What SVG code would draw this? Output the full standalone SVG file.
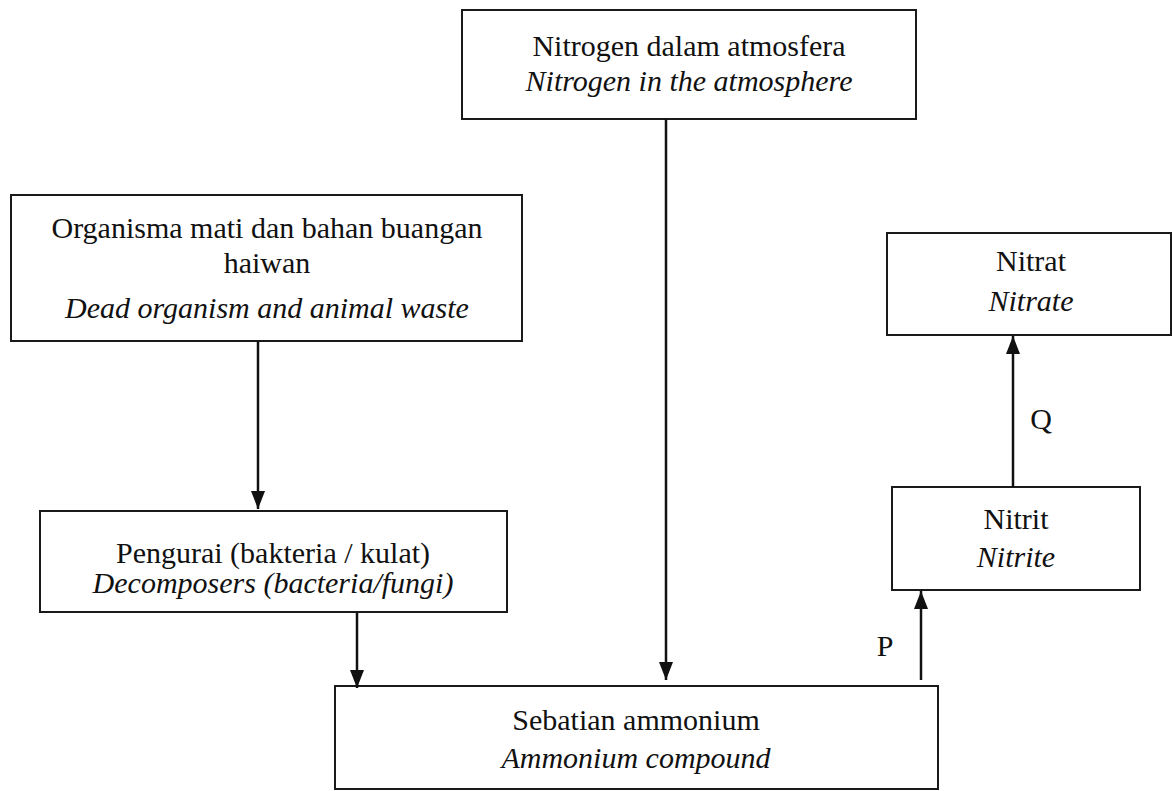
<svg xmlns="http://www.w3.org/2000/svg" width="1172" height="791" viewBox="0 0 1172 791">
<style>
.box{fill:#fff;stroke:#1a1a1a;stroke-width:2}
.t{font-family:"Liberation Serif","Times New Roman",serif;font-size:30px;fill:#111;text-anchor:middle}
.i{font-style:italic}
.c{stroke:#111;stroke-width:2.5;fill:none}
</style>
<defs>
<marker id="ah" viewBox="0 0 18 14" refX="18" refY="7" markerWidth="18" markerHeight="14" markerUnits="userSpaceOnUse" orient="auto">
<path d="M0,0 L18,7 L0,14 Z" fill="#111"/>
</marker>
</defs>
<rect width="1172" height="791" fill="#fff"/>
<g id="atmosphere">
<rect class="box" x="462" y="10" width="454" height="109"/>
<text class="t" x="689" y="56">Nitrogen dalam atmosfera</text>
<text class="t i" x="689" y="91">Nitrogen in the atmosphere</text>
</g>
<g id="dead">
<rect class="box" x="11" y="195" width="511" height="146"/>
<text class="t" x="267" y="238">Organisma mati dan bahan buangan</text>
<text class="t" x="267" y="273">haiwan</text>
<text class="t i" x="267" y="318">Dead organism and animal waste</text>
</g>
<g id="decomposers">
<rect class="box" x="40" y="511" width="467" height="101"/>
<text class="t" x="273" y="563">Pengurai (bakteria / kulat)</text>
<text class="t i" x="273" y="593">Decomposers (bacteria/fungi)</text>
</g>
<g id="nitrate">
<rect class="box" x="887" y="233" width="284" height="102"/>
<text class="t" x="1031" y="271">Nitrat</text>
<text class="t i" x="1031" y="311">Nitrate</text>
</g>
<g id="nitrite">
<rect class="box" x="892" y="487" width="248" height="103"/>
<text class="t" x="1016" y="529">Nitrit</text>
<text class="t i" x="1016" y="567">Nitrite</text>
</g>
<g id="ammonium">
<rect class="box" x="335" y="686" width="603" height="103"/>
<text class="t" x="636" y="730">Sebatian ammonium</text>
<text class="t i" x="636" y="768">Ammonium compound</text>
</g>
<g id="connectors">
<line class="c" x1="666" y1="119" x2="666" y2="680" marker-end="url(#ah)"/>
<line class="c" x1="258" y1="341" x2="258" y2="509" marker-end="url(#ah)"/>
<line class="c" x1="357" y1="612" x2="357" y2="688" marker-end="url(#ah)"/>
<line class="c" x1="921" y1="680" x2="921" y2="591" marker-end="url(#ah)"/>
<line class="c" x1="1013" y1="487" x2="1013" y2="336" marker-end="url(#ah)"/>
<text class="t" x="885" y="656">P</text>
<text class="t" x="1041" y="429">Q</text>
</g>
</svg>
